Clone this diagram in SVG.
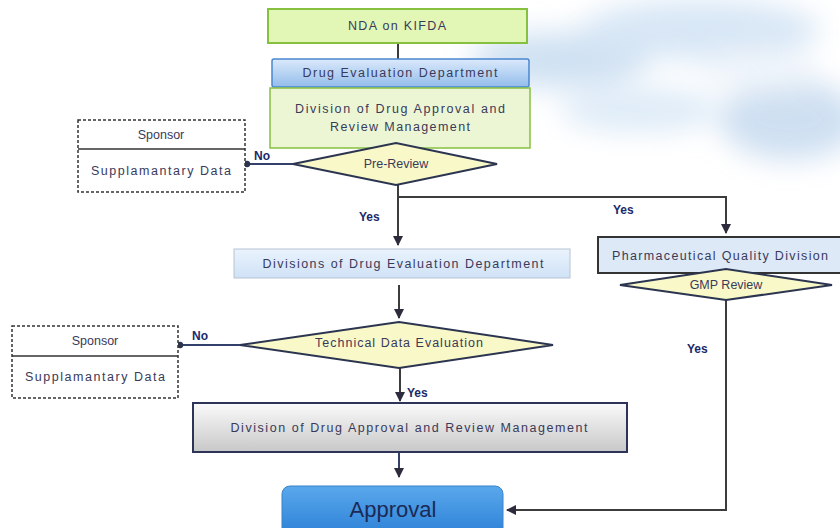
<svg xmlns="http://www.w3.org/2000/svg" width="840" height="528" viewBox="0 0 840 528">
<defs>
<style>
.t{font-family:"Liberation Sans","DejaVu Sans",sans-serif;font-size:12.5px;fill:#3a3a5a;text-anchor:middle;dominant-baseline:central}
.lbl{font-family:"Liberation Sans","DejaVu Sans",sans-serif;font-size:12px;font-weight:bold;fill:#1a2a6a}
.ln{fill:none;stroke:#3c3c3c;stroke-width:2}
.nv{fill:none;stroke:#35406a;stroke-width:2}
.dash{fill:#fff;stroke:#333;stroke-width:1.5;stroke-dasharray:3 2}
.dia{fill:#f8f8c8;stroke:#2c3550;stroke-width:2}
</style>
<linearGradient id="gBlue" x1="0" y1="0" x2="0" y2="1"><stop offset="0" stop-color="#dbe9fb"/><stop offset="1" stop-color="#93bdeb"/></linearGradient>
<linearGradient id="gLb" x1="0" y1="0" x2="0" y2="1"><stop offset="0" stop-color="#eaf3fd"/><stop offset="1" stop-color="#cfe2f6"/></linearGradient>
<linearGradient id="gGray" x1="0" y1="0" x2="0" y2="1"><stop offset="0" stop-color="#fafafa"/><stop offset="1" stop-color="#c8c8c8"/></linearGradient>
<linearGradient id="gAp" x1="0" y1="0" x2="0" y2="1"><stop offset="0" stop-color="#5aa8ec"/><stop offset="1" stop-color="#2a7fd6"/></linearGradient>
<filter id="blur" x="-50%" y="-50%" width="200%" height="200%"><feGaussianBlur stdDeviation="14"/></filter>
<marker id="ah" viewBox="0 0 10 10" refX="9" refY="5" markerWidth="5" markerHeight="5" orient="auto"><path d="M0,0 L10,5 L0,10 z" fill="#2c2c3c"/></marker>
<marker id="dot" viewBox="0 0 10 10" refX="5" refY="5" markerWidth="4" markerHeight="4"><circle cx="5" cy="5" r="4" fill="#2c3550"/></marker>
</defs>
<rect width="840" height="528" fill="#fff"/>
<g id="sky" filter="url(#blur)" opacity="0.55">
<ellipse cx="560" cy="60" rx="90" ry="28" fill="#a9c9e8"/>
<ellipse cx="700" cy="30" rx="120" ry="30" fill="#b7d3ee"/>
<ellipse cx="640" cy="110" rx="80" ry="22" fill="#c3dbf1"/>
<ellipse cx="790" cy="120" rx="70" ry="40" fill="#a7c6e6"/>
<ellipse cx="760" cy="70" rx="60" ry="20" fill="#e4eef8"/>
</g>
<g id="connectors">
<line class="ln" x1="398" y1="43" x2="398" y2="59"/>
<line class="nv" x1="293" y1="164" x2="247" y2="164" marker-end="url(#dot)"/>
<polyline class="ln" points="398,185 398,197 726,197 726,233" marker-end="url(#ah)"/>
<line class="ln" x1="398" y1="197" x2="398" y2="245" marker-end="url(#ah)"/>
<line class="ln" x1="399" y1="285" x2="399" y2="318" marker-end="url(#ah)"/>
<line class="nv" x1="241" y1="345" x2="180" y2="345" marker-end="url(#dot)"/>
<line class="ln" x1="400" y1="368" x2="400" y2="401" marker-end="url(#ah)"/>
<line class="nv" x1="399" y1="452" x2="399" y2="477" marker-end="url(#ah)"/>
<polyline class="ln" points="726,300 726,510 507,510" marker-end="url(#ah)"/>
<text class="lbl" x="254" y="160">No</text>
<text class="lbl" x="359" y="221">Yes</text>
<text class="lbl" x="613" y="214">Yes</text>
<text class="lbl" x="192" y="340">No</text>
<text class="lbl" x="407" y="397">Yes</text>
<text class="lbl" x="687" y="353">Yes</text>
</g>
<g id="nda">
<rect x="268" y="9" width="259" height="34" fill="#e2f6b6" stroke="#86c040" stroke-width="2"/>
<text class="t" x="397" y="26" textLength="98">NDA on KIFDA</text>
</g>
<g id="ded">
<rect x="272" y="59" width="257" height="28" rx="2" fill="url(#gBlue)" stroke="#4a86d0" stroke-width="1.5"/>
<text class="t" x="400" y="73" textLength="195" fill="#2c3060">Drug Evaluation Department</text>
</g>
<g id="ddarm1">
<rect x="270" y="88" width="260" height="60" fill="#ecf6d4" stroke="#86c040" stroke-width="1.5"/>
<text class="t" x="400" y="109" textLength="210">Division of Drug Approval and</text>
<text class="t" x="400" y="127" textLength="140">Review Management</text>
</g>
<g id="prereview">
<polygon class="dia" points="293,164 396,143 497,164 396,185"/>
<text class="t" x="396" y="164">Pre-Review</text>
</g>
<g id="sponsor1">
<rect class="dash" x="78" y="120" width="167" height="72"/>
<line x1="78" y1="149" x2="245" y2="149" stroke="#333" stroke-width="1.5"/>
<text class="t" x="161" y="135">Sponsor</text>
<text class="t" x="161" y="171" textLength="140">Supplamantary Data</text>
</g>
<g id="dded">
<rect x="234" y="249" width="336" height="29" fill="url(#gLb)" stroke="#b8c4d2" stroke-width="1"/>
<text class="t" x="403" y="264" textLength="281">Divisions of Drug Evaluation Department</text>
</g>
<g id="tde">
<polygon class="dia" points="240,345 399,322 553,345 399,368"/>
<text class="t" x="399" y="343" textLength="168">Technical Data Evaluation</text>
</g>
<g id="sponsor2">
<rect class="dash" x="12" y="326" width="166" height="72"/>
<line x1="12" y1="356" x2="178" y2="356" stroke="#333" stroke-width="1.5"/>
<text class="t" x="95" y="341">Sponsor</text>
<text class="t" x="95" y="377" textLength="140">Supplamantary Data</text>
</g>
<g id="ddarm2">
<rect x="193" y="403" width="434" height="49" fill="url(#gGray)" stroke="#2e3458" stroke-width="2"/>
<text class="t" x="409" y="428" textLength="357">Division of Drug Approval and Review Management</text>
</g>
<g id="approval">
<rect x="282" y="486" width="221" height="52" rx="8" fill="url(#gAp)" stroke="#3b82c8" stroke-width="1"/>
<text class="t" x="393" y="509" style="font-size:22px;fill:#1b2a55">Approval</text>
</g>
<g id="pqd">
<rect x="598" y="237" width="250" height="36" fill="#dde9f6" stroke="#333" stroke-width="2"/>
<text class="t" x="720" y="256" textLength="216">Pharmaceutical Quality Division</text>
</g>
<g id="gmp">
<polygon class="dia" points="620,285 726,269 832,285 726,300"/>
<text class="t" x="726" y="285">GMP Review</text>
</g>
</svg>
